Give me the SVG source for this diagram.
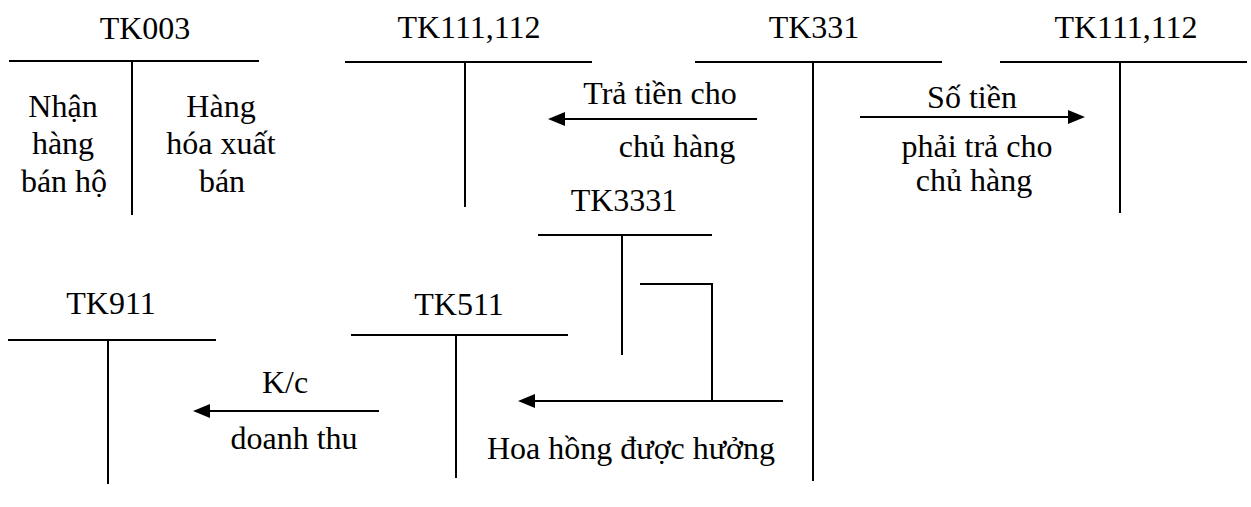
<svg xmlns="http://www.w3.org/2000/svg" width="1251" height="507" viewBox="0 0 1251 507">
<style>
.t{font-family:"Times New Roman","Liberation Serif",Tinos,"DejaVu Serif",serif;font-size:32px;fill:#000;text-anchor:middle}
.l{stroke:#000;stroke-width:2;fill:none}
</style>
<defs>
<marker id="ah" markerUnits="userSpaceOnUse" markerWidth="18" markerHeight="16" refX="9" refY="7" orient="auto">
<path d="M0,0 L17,7 L0,14 z" fill="#000"/>
</marker>
</defs>
<rect width="1251" height="507" fill="#fff"/>
<g id="tk003">
<text class="t" x="145" y="39">TK003</text>
<line class="l" x1="9" y1="61" x2="259" y2="61"/>
<line class="l" x1="132" y1="61" x2="132" y2="215"/>
<text class="t" x="63" y="117">Nhận</text>
<text class="t" x="63" y="154">hàng</text>
<text class="t" x="64" y="192">bán hộ</text>
<text class="t" x="221" y="117">Hàng</text>
<text class="t" x="221" y="154">hóa xuất</text>
<text class="t" x="222" y="192">bán</text>
</g>
<g id="tk111-112-left">
<text class="t" x="469" y="38">TK111,112</text>
<line class="l" x1="345" y1="62" x2="592" y2="62"/>
<line class="l" x1="465" y1="62" x2="465" y2="207"/>
</g>
<g id="tk331">
<text class="t" x="814" y="38">TK331</text>
<line class="l" x1="695" y1="62" x2="942" y2="62"/>
<line class="l" x1="813" y1="62" x2="813" y2="481"/>
</g>
<g id="tk111-112-right">
<text class="t" x="1126" y="38">TK111,112</text>
<line class="l" x1="1000" y1="62" x2="1247" y2="62"/>
<line class="l" x1="1120" y1="62" x2="1120" y2="213"/>
</g>
<g id="tk3331">
<text class="t" x="624" y="211">TK3331</text>
<line class="l" x1="538" y1="235" x2="712" y2="235"/>
<line class="l" x1="622" y1="235" x2="622" y2="355"/>
</g>
<g id="tk511">
<text class="t" x="459" y="315">TK511</text>
<line class="l" x1="351" y1="335" x2="568" y2="335"/>
<line class="l" x1="456" y1="335" x2="456" y2="478"/>
</g>
<g id="tk911">
<text class="t" x="111" y="314">TK911</text>
<line class="l" x1="8" y1="340" x2="216" y2="340"/>
<line class="l" x1="108" y1="340" x2="108" y2="484"/>
</g>
<g id="connectors">
<line class="l" x1="757" y1="119" x2="556" y2="119" marker-end="url(#ah)"/>
<line class="l" x1="860" y1="117" x2="1077" y2="117" marker-end="url(#ah)"/>
<polyline class="l" points="640,284 712,284 712,400"/>
<line class="l" x1="783" y1="401" x2="526" y2="401" marker-end="url(#ah)"/>
<line class="l" x1="379" y1="411" x2="201" y2="411" marker-end="url(#ah)"/>
</g>
<g id="labels">
<text class="t" x="660" y="104">Trả tiền cho</text>
<text class="t" x="677" y="157">chủ hàng</text>
<text class="t" x="972" y="108">Số tiền</text>
<text class="t" x="977" y="157">phải trả cho</text>
<text class="t" x="974" y="191">chủ hàng</text>
<text class="t" x="285" y="393">K/c</text>
<text class="t" x="294" y="449">doanh thu</text>
<text class="t" x="631" y="459">Hoa hồng được hưởng</text>
</g>
</svg>
